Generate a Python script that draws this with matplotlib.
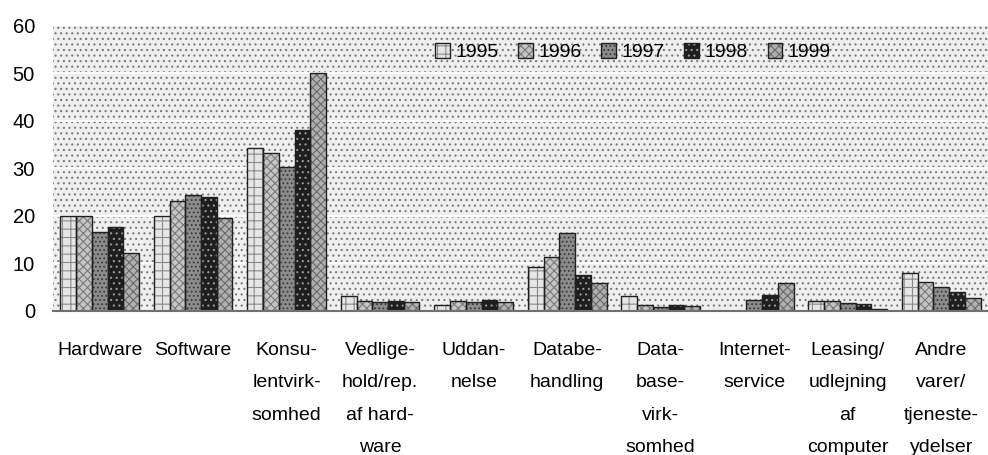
import matplotlib

matplotlib.use("Agg")

import matplotlib.pyplot as plt
import numpy as np

plt.rcParams["font.family"] = ["Liberation Sans", "DejaVu Sans"]
plt.rcParams["hatch.linewidth"] = 0.8

categories = [
    "Hardware",
    "Software",
    "Konsu-\nlentvirk-\nsomhed",
    "Vedlige-\nhold/rep.\naf hard-\nware",
    "Uddan-\nnelse",
    "Databe-\nhandling",
    "Data-\nbase-\nvirk-\nsomhed",
    "Internet-\nservice",
    "Leasing/\nudlejning\naf\ncomputer",
    "Andre\nvarer/\ntjeneste-\nydelser",
]
years = ["1995", "1996", "1997", "1998", "1999"]

v1995 = [20.0, 20.0, 34.4, 3.2, 1.2, 9.3, 3.2, 0.0, 2.2, 8.1]
v1996 = [20.0, 23.2, 33.3, 2.1, 2.2, 11.4, 1.3, 0.0, 2.2, 6.1]
v1997 = [16.6, 24.5, 30.4, 1.8, 1.9, 16.4, 0.9, 2.4, 1.7, 5.1]
v1998 = [17.7, 24.1, 38.1, 2.1, 2.4, 7.6, 1.2, 3.3, 1.5, 4.0]
v1999 = [12.3, 19.6, 50.1, 1.8, 1.9, 5.9, 1.0, 5.9, 0.4, 2.8]
values = [v1995, v1996, v1997, v1998, v1999]

# face colour, hatch, hatch colour per year
styles = [
    ("#e6e6e6", "++", "#8a8a8a"),
    ("#c4c4c4", "xxxx", "#7a7a7a"),
    ("#8c8c8c", "....", "#3a3a3a"),
    ("#1e1e1e", "...", "#9a9a9a"),
    ("#b0b0b0", "xxxx", "#6a6a6a"),
]

fig = plt.figure(figsize=(9.88, 4.55), dpi=100)
ax = fig.add_axes([0.0536, 0.3165, 0.9464, 0.6264])

# dotted plot background
ax.set_facecolor("white")
bg = plt.Rectangle((0, 0), 1, 1, transform=ax.transAxes, facecolor="#efefef",
                   edgecolor="#7a7a7a", hatch="...", linewidth=0, zorder=0)
ax.add_patch(bg)
for y in range(10, 60, 10):
    ax.axhline(y, color="white", linewidth=1.4, zorder=1)

x = np.arange(len(categories))
width = 0.168
handles = []
for i, (year, vals) in enumerate(zip(years, values)):
    face, hatch, hcol = styles[i]
    pos = x + (i - 2) * width
    fill = ax.bar(pos, vals, width, color=face, hatch=hatch, edgecolor=hcol,
                  linewidth=0, zorder=2)
    edge = ax.bar(pos, vals, width, fill=False, edgecolor="#202020",
                  linewidth=1.0, zorder=3)
    handles.append((fill[0], edge[0]))

ax.set_xlim(-0.5, len(categories) - 0.5)
ax.set_ylim(0, 60)
ax.set_yticks(range(0, 61, 10))
ax.set_xticks(x)
ax.set_xticklabels(categories, fontsize=14, linespacing=2.2, multialignment="center",
                   va="top")
ax.tick_params(axis="x", length=0, pad=22)
ax.tick_params(axis="y", length=0, pad=13, labelsize=14.5)

for side in ["left", "right", "top"]:
    ax.spines[side].set_visible(False)
ax.spines["bottom"].set_color("#707070")
ax.spines["bottom"].set_linewidth(1.5)
ax.spines["bottom"].set_zorder(4)

ax.legend(handles, years, loc="upper left", bbox_to_anchor=(0.39, 1.0), ncol=5,
          frameon=False, fontsize=14, handlelength=0.75, handleheight=0.75,
          handletextpad=0.3, columnspacing=1.0)

fig.savefig("out.png", dpi=100)
